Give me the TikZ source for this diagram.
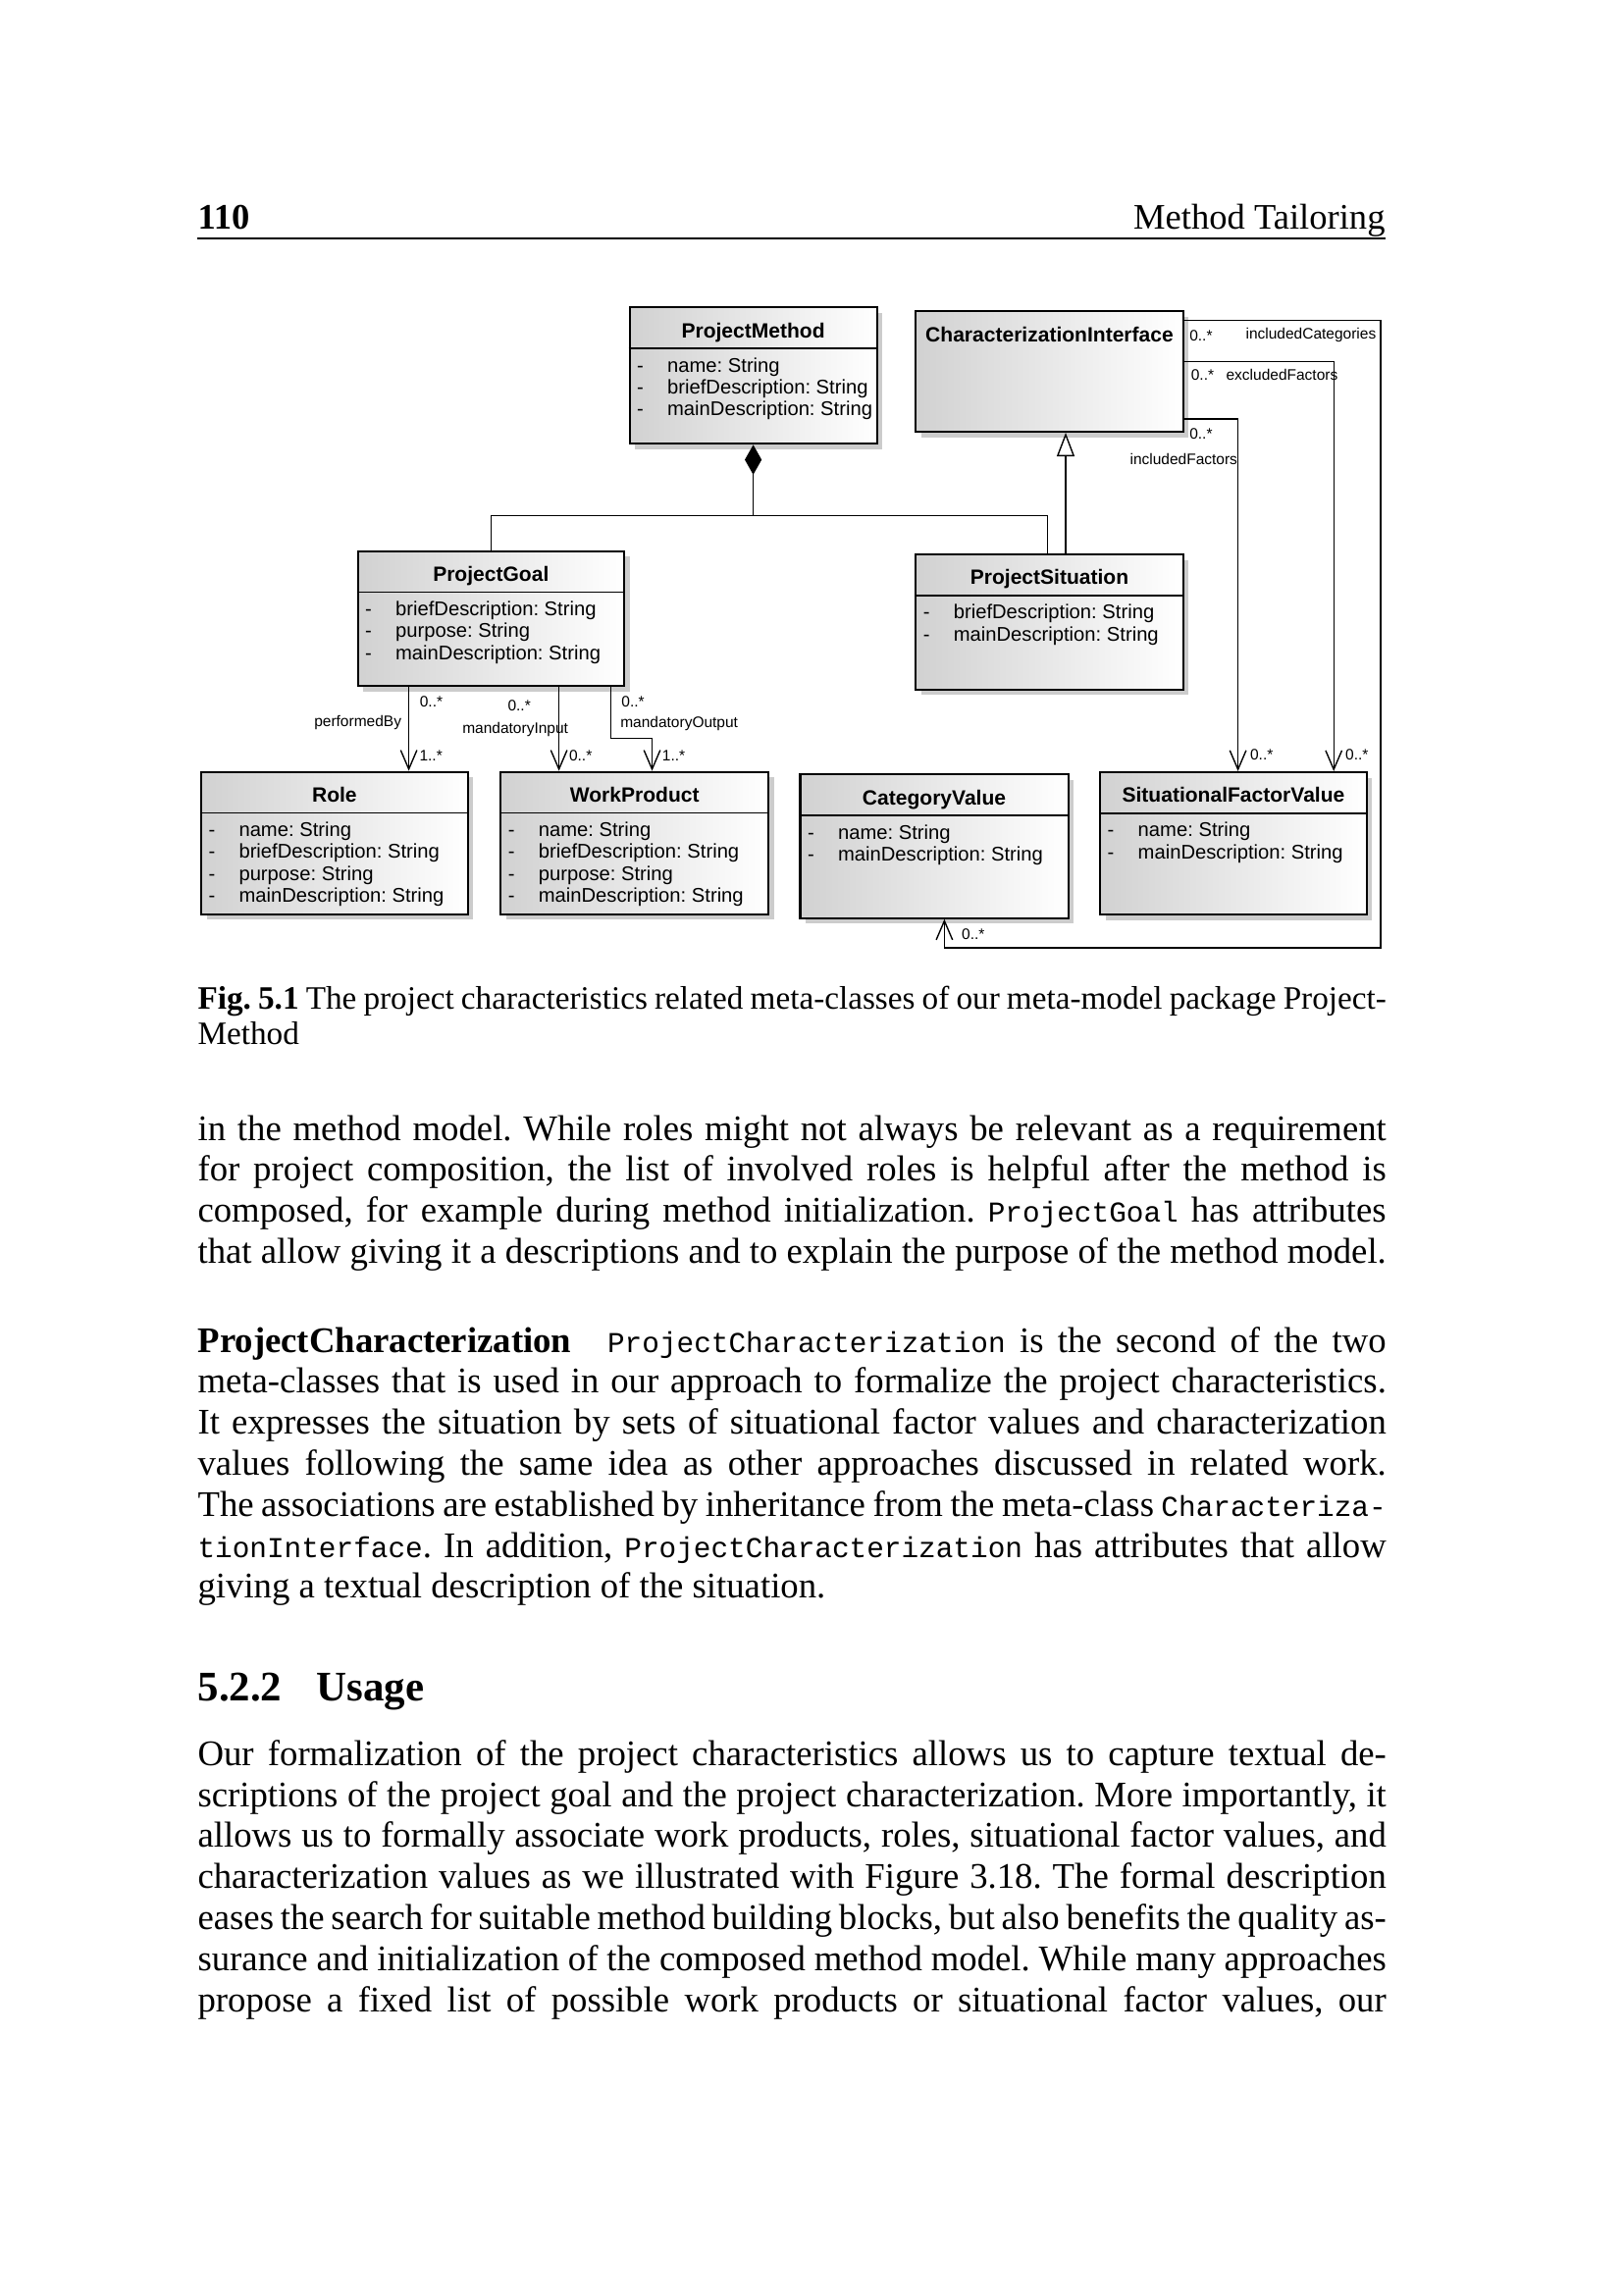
\documentclass[tikz,border=0pt]{standalone}
\usepackage{fontspec}
\setmainfont{Liberation Serif}
\setmonofont{Liberation Mono}
\newfontfamily\umlfont{Liberation Sans}
\newfontfamily\codefont{Liberation Mono}[Scale=0.8]
\usetikzlibrary{
  positioning,
  arrows.meta,
  fit,
  calc,
  shadows
}
\frenchspacing
\newlength\textw
\setlength\textw{437.5pt}
\newcommand{\code}[1]{{\codefont #1}}
\tikzset{
  classbox/.style   = {rectangle, draw=black, line width=0.75pt, inner sep=0pt,
                       left color=black!18, right color=white,
                       drop shadow={shadow xshift=0.07cm, shadow yshift=-0.07cm,
                                    fill=black!20, opacity=1}},
  classtitle/.style = {anchor=base, inner sep=0pt,
                       font=\umlfont\bfseries\fontsize{7.6}{9}\selectfont},
  classattr/.style  = {anchor=base west, inner sep=0pt,
                       font=\umlfont\fontsize{7.3}{8}\selectfont},
  sepline/.style    = {line width=0.6pt},
  link/.style       = {line width=0.5pt},
  assoc/.style      = {-{Straight Barb[length=7pt, width=6pt]}, line width=0.5pt},
  compose/.style    = {{Diamond[length=11pt, width=6.2pt]}-, line width=0.5pt},
  generalize/.style = {-{Triangle[open, length=8.7pt, width=6.5pt, fill=white]},
                       line width=0.5pt},
  rolename/.style   = {anchor=west, inner sep=0pt,
                       font=\umlfont\fontsize{5.6}{6}\selectfont},
  headtext/.style   = {anchor=base west, inner sep=0pt,
                       font=\fontsize{13.2}{15}\selectfont},
  bodytext/.style   = {anchor=base west, inner sep=0pt,
                       font=\fontsize{13.27}{15.1}\selectfont},
  captext/.style    = {anchor=base west, inner sep=0pt,
                       font=\fontsize{12}{13}\selectfont},
  sectext/.style    = {anchor=base west, inner sep=0pt,
                       font=\bfseries\fontsize{15.5}{18}\selectfont}
}
% class box: name, left, top, right, bottom, title, attributes
\newcommand{\umlclass}[7]{%
  \node[classbox, fit={(#2,#3) (#4,#5)}] (#1) {};
  \node[classtitle] (#1-title) at ($(#1.north)+(0,32)$) {#6};
  \draw[sepline] ($(#1.north west)+(0,43)$) -- ($(#1.north east)+(0,43)$);
  \foreach \attrtext [count=\i from 0] in {#7}
    \node[classattr] (#1-a\i) at ($(#1.north west)+(8,67+22.3*\i)$)
      {\makebox[11.2pt][l]{-}\attrtext};
}
% one line of text: justified (\jline) or natural (\nline)
\newcommand{\jline}[4][bodytext]{\node[#1] (#2) at (201,#3) {\hbox to\textw{#4}};}
\newcommand{\nline}[4][bodytext]{\node[#1] (#2) at (201,#3) {#4};}

\begin{document}
\begin{tikzpicture}[x=0.012697cm, y=-0.012697cm]
\fill[white] (0,0) rectangle (1654,2339);
\useasboundingbox (0,0) rectangle (1654,2339);

% running head
\node[headtext, font=\bfseries\fontsize{13.2}{15}\selectfont] (pagenum) at (201,234) {110};
\node[headtext, anchor=base east] (runhead) at (1412,234) {Method Tailoring};
\draw[line width=0.5pt] (201,243) -- (1412,243);

% classes
\umlclass{pm}{641.6}{313.3}{893.6}{452.3}{ProjectMethod}
  {name: String, briefDescription: String, mainDescription: String}
\node[classbox, fit={(933.3,317.3) (1205.7,440)}] (ci) {};
\node[classtitle] (ci-title) at ($(ci.north)+(0,32)$) {CharacterizationInterface};
\umlclass{pg}{364.6}{561.7}{636}{699.3}{ProjectGoal}
  {briefDescription: String, purpose: String, mainDescription: String}
\umlclass{ps}{933.3}{565}{1205.7}{702.7}{ProjectSituation}
  {briefDescription: String, mainDescription: String}
\umlclass{role}{205}{786.7}{476.7}{931.7}{Role}
  {name: String, briefDescription: String, purpose: String, mainDescription: String}
\umlclass{wp}{510.3}{786.7}{783.1}{931.7}{WorkProduct}
  {name: String, briefDescription: String, purpose: String, mainDescription: String}
\umlclass{cv}{815.5}{789.3}{1088.6}{935.7}{CategoryValue}
  {name: String, mainDescription: String}
\umlclass{sfv}{1121.2}{787}{1392.7}{932.3}{SituationalFactorValue}
  {name: String, mainDescription: String}

% connectors
\coordinate (join) at ($(pm.south)+(0,72)$);
\coordinate (xperf) at (416.6,0);
\coordinate (xin) at (569.6,0);
\coordinate (xout) at (622.2,0);
\coordinate (xoutb) at (664.5,0);
\coordinate (xincf) at (1261.6,0);
\coordinate (xexcf) at (1359.2,0);
\coordinate (xcat) at (962.4,0);
\coordinate (catturn) at (1407,966);

\draw[compose] (pm.south) -- (join);
\draw[link] (pg.north) |- (join) -| ($(ps.north)+(-2,0)$);
\draw[generalize] ($(ps.north)+(16.5,0)$) -- ($(ci.south)+(16.5,0)$);

\draw[assoc] (pg.south -| xperf) -- (role.north -| xperf);
\draw[assoc] (pg.south -| xin) -- (wp.north -| xin);
\draw[assoc] (pg.south -| xout) -- ++(0,52.4) -| (wp.north -| xoutb);
\draw[assoc] ($(ci.south east)+(0,-14)$) -| (sfv.north -| xincf);
\draw[assoc] ($(ci.north east)+(0,52)$) -| (sfv.north -| xexcf);
\draw[assoc] ($(ci.north east)+(0,10.4)$) -| (catturn) -| (cv.south -| xcat);

% association ends
\node[rolename] (m-perf) at (427.3,715) {0..*};
\node[rolename] (r-perf) at (319.7,736.7) {performedBy};
\node[rolename] (n-perf) at (427,770) {1..*};
\node[rolename] (m-in) at (517,719.3) {0..*};
\node[rolename] (r-in) at (470.7,743.3) {mandatoryInput};
\node[rolename] (n-in) at (579.5,770) {0..*};
\node[rolename] (m-out) at (632.9,715) {0..*};
\node[rolename] (r-out) at (631.7,737) {mandatoryOutput};
\node[rolename] (n-out) at (674.4,770) {1..*};
\node[rolename] (m-cat) at (1211.7,341.7) {0..*};
\node[rolename] (r-cat) at (1269,341.7) {includedCategories};
\node[rolename] (m-exc) at (1213.3,381.7) {0..*};
\node[rolename] (r-exc) at (1249,381.7) {excludedFactors};
\node[rolename] (m-inc) at (1211.7,441.7) {0..*};
\node[rolename] (r-inc) at (1151,468.3) {includedFactors};
\node[rolename] (n-inc) at (1273.5,769) {0..*};
\node[rolename] (n-exc) at (1370.6,769) {0..*};
\node[rolename] (n-cat) at (979.6,951.7) {0..*};

% caption
\jline[captext]{cap1}{1028}{\textbf{Fig. 5.1} The project characteristics related meta-classes of our meta-model package Project-}
\nline[captext]{cap2}{1064}{Method}

% body
\jline{p1a}{1162}{in the method model. While roles might not always be relevant as a requirement}
\jline{p1b}{1203.8}{for project composition, the list of involved roles is helpful after the method is}
\jline{p1c}{1245.6}{composed, for example during method initialization. \code{ProjectGoal} has attributes}
\jline{p1d}{1287.4}{that allow giving it a descriptions and to explain the purpose of the method model.}

\jline{p2a}{1378}{\textbf{ProjectCharacterization}\hspace{1em}\code{ProjectCharacterization} is the second of the two}
\jline{p2b}{1419.8}{meta-classes that is used in our approach to formalize the project characteristics.}
\jline{p2c}{1461.6}{It expresses the situation by sets of situational factor values and characterization}
\jline{p2d}{1503.4}{values following the same idea as other approaches discussed in related work.}
\jline{p2e}{1545.2}{The associations are established by inheritance from the meta-class \code{Characteriza-}}
\jline{p2f}{1587}{\code{tionInterface}. In addition, \code{ProjectCharacterization} has attributes that allow}
\nline{p2g}{1628.8}{giving a textual description of the situation.}

\node[sectext] (secnum) at (201,1733) {5.2.2};
\node[sectext] (sectitle) at (322,1733) {Usage};

\jline{p3a}{1799.3}{Our formalization of the project characteristics allows us to capture textual de-}
\jline{p3b}{1841.1}{scriptions of the project goal and the project characterization. More importantly, it}
\jline{p3c}{1882.9}{allows us to formally associate work products, roles, situational factor values, and}
\jline{p3d}{1924.7}{characterization values as we illustrated with Figure 3.18. The formal description}
\jline{p3e}{1966.5}{eases the search for suitable method building blocks, but also benefits the quality as-}
\jline{p3f}{2008.3}{surance and initialization of the composed method model. While many approaches}
\jline{p3g}{2050.1}{propose a fixed list of possible work products or situational factor values, our}
\end{tikzpicture}
\end{document}
